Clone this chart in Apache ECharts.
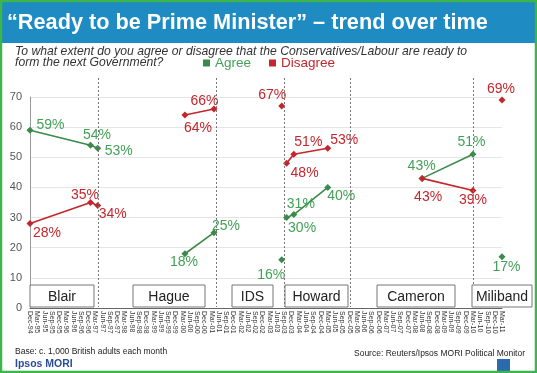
<!DOCTYPE html>
<html><head><meta charset="utf-8">
<script src="https://cdn.jsdelivr.net/npm/echarts@6/dist/echarts.min.js"></script>
<style>html,body{margin:0;padding:0;background:#fff}#c{width:537px;height:373px}</style>
</head><body><div id="c"></div>
<script>
// ---- axis categories (monthly, Dec-94 .. Mar-11) ----
const monthNames = ['Jan','Feb','Mar','Apr','May','Jun','Jul','Aug','Sep','Oct','Nov','Dec'];
const months = [];
for (let i = 0; i < 196; i++) {
  const m = (11 + i) % 12;
  const y = (94 + Math.floor((11 + i) / 12)) % 100;
  months.push(monthNames[m] + '-' + String(y).padStart(2, '0'));
}
const yTicks = [0, 10, 20, 30, 40, 50, 60, 70];

// ---- data ----
const leaders = ['Blair', 'Hague', 'IDS', 'Howard', 'Cameron', 'Miliband'];
const pollMonths = [
  ['Dec-94', 'Jan-97', 'Apr-97'],
  ['Apr-00', 'Apr-01'],
  ['Aug-03'],
  ['Oct-03', 'Jan-04', 'Mar-05'],
  ['Jun-08', 'Mar-10'],
  ['Mar-11']
];
const agree    = [[59, 54, 53], [18, 25], [16], [30, 31, 40], [43, 51], [17]];
const disagree = [[28, 35, 34], [64, 66], [67], [48, 51, 53], [43, 39], [69]];
const dividers = ['Apr-97', 'May-01', 'Sep-03', 'Dec-05', 'Mar-10'];

// ---- label placement: label centre relative to its point, px (layout, not data) ----
const agreeLabelOffsets = [
  [[20.5, -5], [6.5, -10], [21, 3]],
  [[-1, 8], [12, -6.5]],
  [[-10.5, 15]],
  [[15.5, 11], [7, -10.5], [13.5, 8.5]],
  [[-0.5, -12], [-1.5, -12]],
  [[4.5, 10.5]]
];
const disagreeLabelOffsets = [
  [[17, 9.5], [-5.5, -7.5], [15, 9]],
  [[13, 13], [-9.5, -7.7]],
  [[-9.5, -11]],
  [[18, 10], [14.5, -12.5], [16.5, -8.5]],
  [[6, 18.5], [0, 9.5]],
  [[-1, -11]]
];
const boxes = [[30, 64], [133, 72], [232, 41], [285, 63], [377, 78], [472, 60]];

const GREEN = '#3a8a4a', GREEN_TXT = '#43a057', RED = '#c4262b';
const FONT = 'Arial, "Liberation Sans", sans-serif';

const series = [];
leaders.forEach((ld, i) => {
  [['Agree', agree, agreeLabelOffsets, GREEN, GREEN_TXT], ['Disagree', disagree, disagreeLabelOffsets, RED, RED]]
    .forEach(([name, vals, offs, col, tcol]) => {
      const o = offs[i];
      series.push({
        type: 'line', name,
        data: pollMonths[i].map((m, j) => [m, vals[i][j]]),
        symbol: 'diamond', symbolSize: 7, showSymbol: true, showAllSymbol: true,
        lineStyle: { color: col, width: 1.6 },
        itemStyle: { color: col },
        label: { show: true, formatter: p => p.value[1] + '%', color: tcol, fontSize: 14, fontFamily: FONT },
        labelLayout: p => ({
          x: p.rect.x + p.rect.width / 2 + o[p.dataIndex][0],
          y: p.rect.y + p.rect.height / 2 + o[p.dataIndex][1],
          align: 'center', verticalAlign: 'middle', hideOverlap: false
        }),
        animation: false
      });
    });
});

const graphics = [
  { id: 'band', type: 'rect', shape: { x: 2, y: 2, width: 533, height: 41 }, style: { fill: '#1e8bc3' }, z: 0 },
  { id: 'border', type: 'rect', shape: { x: 1, y: 1, width: 535, height: 371 }, style: { fill: 'none', stroke: '#3db54a', lineWidth: 2.5 }, z: 100 },
  { id: 'title', type: 'text', x: 7, y: 23, style: { text: '\u201cReady to be Prime Minister\u201d \u2013 trend over time', fill: '#fff', font: 'bold 21.7px ' + FONT, verticalAlign: 'middle' }, z: 10 },
  { id: 'sub1', type: 'text', x: 15, y: 52, style: { text: 'To what extent do you agree or disagree that the Conservatives/Labour are ready to', fill: '#333', font: 'italic 12.2px ' + FONT, verticalAlign: 'middle' }, z: 10 },
  { id: 'sub2', type: 'text', x: 15, y: 63, style: { text: 'form the next Government?', fill: '#333', font: 'italic 12.2px ' + FONT, verticalAlign: 'middle' }, z: 10 },
  { id: 'base', type: 'text', x: 15, y: 352, style: { text: 'Base: c. 1,000 British adults each month', fill: '#222', font: '8.5px ' + FONT, verticalAlign: 'middle' }, z: 10 },
  { id: 'ipsos', type: 'text', x: 15, y: 364, style: { text: 'Ipsos MORI', fill: '#2a4d9a', font: 'bold 10.5px ' + FONT, verticalAlign: 'middle' }, z: 10 },
  { id: 'src', type: 'text', x: 525, y: 354, style: { text: 'Source: Reuters/Ipsos MORI Political Monitor', fill: '#222', font: '8.5px ' + FONT, verticalAlign: 'middle', align: 'right' }, z: 10 },
  { id: 'logo', type: 'rect', shape: { x: 497, y: 359, width: 13, height: 12 }, style: { fill: '#2a6bb0' }, z: 10 }
];
leaders.forEach((ld, i) => {
  const [bx, bw] = boxes[i];
  graphics.push({ id: 'box' + i, type: 'rect', shape: { x: bx, y: 285, width: bw, height: 22 }, style: { fill: '#fff', stroke: '#777', lineWidth: 1 }, z: 50 });
  graphics.push({ id: 'boxt' + i, type: 'text', x: bx + bw / 2, y: 297, style: { text: ld, fill: '#222', font: '14px ' + FONT, align: 'center', verticalAlign: 'middle' }, z: 51 });
});

const chart = echarts.init(document.getElementById('c'), null, { renderer: 'canvas' });
chart.setOption({
  animation: false,
  backgroundColor: '#fff',
  grid: { left: 30, right: 35, top: 97, bottom: 65 },
  legend: {
    left: 198, top: 51, icon: 'rect', itemWidth: 7, itemHeight: 7, itemGap: 18,
    textStyle: { fontSize: 13.5, fontFamily: FONT },
    data: [{ name: 'Agree', textStyle: { color: GREEN_TXT } }, { name: 'Disagree', textStyle: { color: RED } }]
  },
  xAxis: {
    type: 'category', data: months, boundaryGap: false,
    axisLine: { lineStyle: { color: '#666' } },
    axisTick: { show: false },
    axisLabel: { interval: 2, rotate: -90, fontSize: 7, color: '#333', margin: 3, fontFamily: FONT },
    splitLine: { show: false }
  },
  yAxis: {
    type: 'value', min: yTicks[0], max: yTicks[yTicks.length - 1], interval: 10,
    axisLine: { show: true, lineStyle: { color: '#999' } },
    axisTick: { show: false },
    axisLabel: { color: '#555', fontSize: 11, margin: 8, fontFamily: FONT },
    splitLine: { lineStyle: { color: '#e6e6e6' } }
  },
  series,
  graphic: { elements: graphics }
});

const divs = dividers.map((d, k) => {
  const px = Math.round(chart.convertToPixel({ xAxisIndex: 0 }, months.indexOf(d))) + 0.5;
  return { id: 'div' + k, type: 'line', shape: { x1: px, y1: 78, x2: px, y2: 307 }, style: { stroke: '#777', lineWidth: 1, lineDash: [2, 2] }, z: 5 };
});
chart.setOption({ graphic: { elements: divs } });
</script>
</body></html>
